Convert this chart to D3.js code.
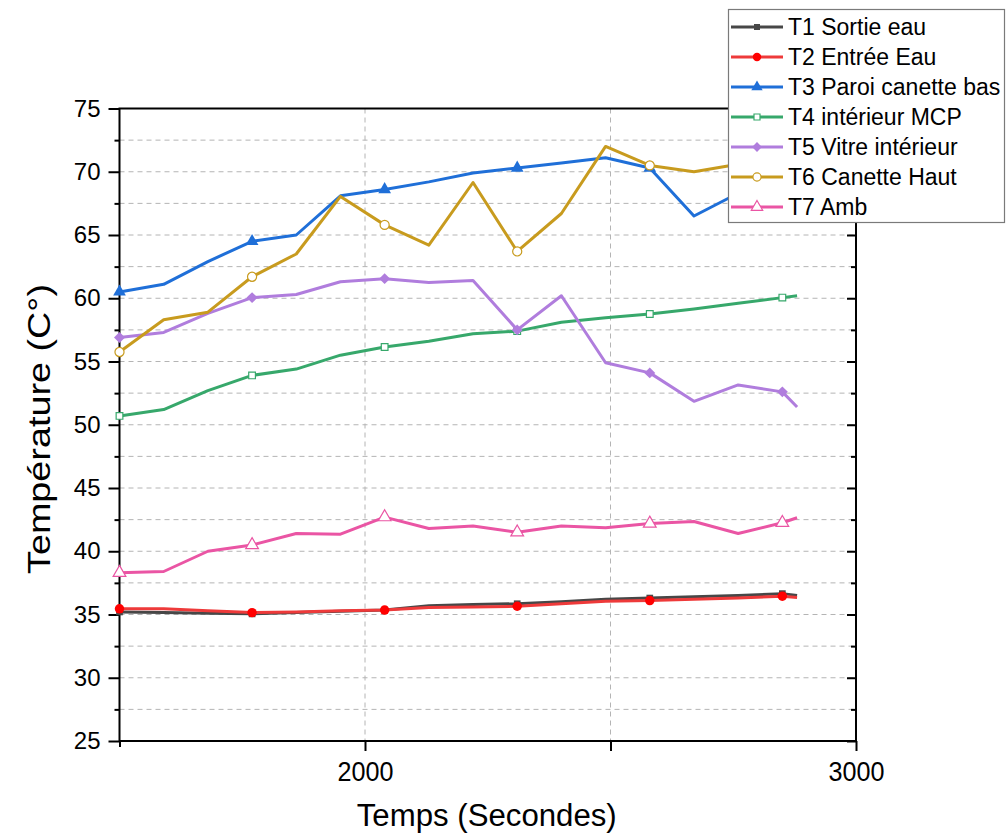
<!DOCTYPE html>
<html>
<head>
<meta charset="utf-8">
<script src="https://cdnjs.cloudflare.com/ajax/libs/d3/7.8.5/d3.min.js"></script>
<style>
  html, body { margin: 0; padding: 0; background: #fff; }
  svg { display: block; font-family: "Liberation Sans", Arial, sans-serif; }
</style>
</head>
<body>
<svg id="chart" width="1007" height="838"></svg>
<script>
// ---- data ----
const times = [1500, 1590, 1680, 1770, 1860, 1950, 2040, 2130, 2220, 2310, 2400, 2490, 2580, 2670, 2760, 2850, 2880];
const seriesNames = ["T1 Sortie eau", "T2 Entrée Eau", "T3 Paroi canette bas", "T4 intérieur MCP", "T5 Vitre intérieur", "T6 Canette Haut", "T7 Amb"];
const t1 = [35.2, 35.15, 35.1, 35.05, 35.15, 35.25, 35.35, 35.7, 35.8, 35.85, 36.0, 36.2, 36.3, 36.4, 36.5, 36.65, 36.5];
const t2 = [35.45, 35.45, 35.3, 35.15, 35.2, 35.3, 35.35, 35.55, 35.6, 35.65, 35.85, 36.05, 36.1, 36.2, 36.3, 36.45, 36.35];
const t3 = [60.5, 61.1, 62.9, 64.5, 65.0, 68.1, 68.6, 69.2, 69.9, 70.3, 70.7, 71.1, 70.3, 66.5, 68.3, 69.5, 69.8];
const t4 = [50.7, 51.2, 52.7, 53.9, 54.4, 55.5, 56.15, 56.6, 57.2, 57.4, 58.1, 58.45, 58.75, 59.15, 59.6, 60.05, 60.2];
const t5 = [56.9, 57.3, 58.8, 60.05, 60.3, 61.3, 61.55, 61.25, 61.4, 57.5, 60.2, 54.9, 54.1, 51.85, 53.15, 52.6, 51.4];
const t6 = [55.75, 58.3, 58.9, 61.7, 63.5, 68.05, 65.8, 64.2, 69.15, 63.7, 66.7, 72.0, 70.5, 70.0, 70.6, 71.0, 71.2];
const t7 = [38.3, 38.4, 40.0, 40.5, 41.4, 41.35, 42.7, 41.8, 42.0, 41.5, 42.0, 41.85, 42.2, 42.35, 41.4, 42.25, 42.65];
const yMajorTicks = [25, 30, 35, 40, 45, 50, 55, 60, 65, 70, 75];
const yMinorTicks = [27.5, 32.5, 37.5, 42.5, 47.5, 52.5, 57.5, 62.5, 67.5, 72.5];
const xLabelTicks = [2000, 3000];
const xAllTicks = [1500, 2000, 2500, 3000];
const xTitle = "Temps (Secondes)";
const yTitle = "Température (C°)";

// ---- styles ----
const colors = ["#474747", "#ee3a3a", "#1f6fd8", "#37a86b", "#b07ddd", "#c89b1e", "#ea55a4"];
const markerFill = ["#474747", "#ff0000", "#1f6fd8", "#ffffff", "#b07ddd", "#ffffff", "#ffffff"];
const markerType = ["square", "circle", "triangle", "square", "diamond", "circle", "triangle"];
const markerSize = [45, 70, 70, 45, 60, 65, 70];
const allSeries = [t1, t2, t3, t4, t5, t6, t7];

const svg = d3.select("#chart");
const X0 = 119.5, X1 = 856, Y0 = 741, Y1 = 108.5;
const x = d3.scaleLinear().domain([1500, 3000]).range([X0, X1]);
const y = d3.scaleLinear().domain([25, 75]).range([Y0, Y1]);

// grid
const grid = svg.append("g");
grid.selectAll("line.h").data(d3.range(27.5, 75, 2.5)).join("line")
  .attr("x1", X0).attr("x2", X1).attr("y1", d => y(d)).attr("y2", d => y(d))
  .attr("stroke", "#b4b4b4").attr("stroke-width", 1).attr("stroke-dasharray", "5,4");
grid.selectAll("line.v").data([2000, 2500]).join("line")
  .attr("y1", Y1).attr("y2", Y0).attr("x1", d => x(d)).attr("x2", d => x(d))
  .attr("stroke", "#b4b4b4").attr("stroke-width", 1).attr("stroke-dasharray", "5,4");

// axes
const left = svg.append("g").attr("transform", `translate(${X0},0)`)
  .call(d3.axisLeft(y).tickValues(yMajorTicks).tickSize(11).tickPadding(8).tickFormat(d3.format("d")));
left.selectAll(".tick text").attr("font-size", 24).attr("fill", "#000").attr("font-family", "Liberation Sans, Arial, sans-serif");
left.selectAll(".tick line").attr("stroke-width", 2);
left.select(".domain").remove();
const leftMinor = svg.append("g").attr("transform", `translate(${X0},0)`)
  .call(d3.axisLeft(y).tickValues(yMinorTicks).tickSize(5).tickFormat(""));
leftMinor.selectAll(".tick line").attr("stroke-width", 2);
leftMinor.select(".domain").remove();

svg.append("g").attr("transform", `translate(${X1},0)`)
  .call(d3.axisRight(y).tickValues(yMajorTicks).tickSize(-9).tickFormat(""))
  .call(g => { g.select(".domain").remove(); g.selectAll(".tick line").attr("stroke-width", 2); });
svg.append("g").attr("transform", `translate(${X1},0)`)
  .call(d3.axisRight(y).tickValues(yMinorTicks).tickSize(-5).tickFormat(""))
  .call(g => { g.select(".domain").remove(); g.selectAll(".tick line").attr("stroke-width", 2); });

const bottom = svg.append("g").attr("transform", `translate(0,${Y0})`)
  .call(d3.axisBottom(x).tickValues(xAllTicks).tickSize(10).tickPadding(10)
    .tickFormat(d => xLabelTicks.includes(d) ? d3.format("d")(d) : ""));
bottom.select(".domain").remove();
bottom.selectAll(".tick line").attr("stroke-width", 2).attr("y2", d => d === 1500 ? 6 : 10);
bottom.selectAll(".tick text").attr("font-size", 28).attr("fill", "#000")
  .attr("font-family", "Liberation Sans, Arial, sans-serif")
  .attr("textLength", 56).attr("lengthAdjust", "spacingAndGlyphs");

// frame
svg.append("rect").attr("x", X0).attr("y", Y1).attr("width", X1 - X0).attr("height", Y0 - Y1)
  .attr("fill", "none").attr("stroke", "#000").attr("stroke-width", 2);

// series
const line = d3.line().x((d, i) => x(times[i])).y(d => y(d));
const squareDiamond = {
  draw(ctx, size) {
    const r = Math.sqrt(size / 2);
    ctx.moveTo(0, -r); ctx.lineTo(r, 0); ctx.lineTo(0, r); ctx.lineTo(-r, 0); ctx.closePath();
  }
};
const symbolOf = t => t === "square" ? d3.symbolSquare : t === "circle" ? d3.symbolCircle : t === "triangle" ? d3.symbolTriangle : squareDiamond;
const plot = svg.append("g");
allSeries.forEach((s, k) => {
  plot.append("path").datum(s).attr("d", line).attr("fill", "none")
    .attr("stroke", colors[k]).attr("stroke-width", 3).attr("stroke-linejoin", "round");
  const sym = d3.symbol().type(symbolOf(markerType[k])).size(markerSize[k]);
  plot.selectAll(null).data(s.map((v, i) => ({v, i})).filter(d => d.i % 3 === 0)).join("path")
    .attr("transform", d => `translate(${x(times[d.i])},${y(d.v)})`)
    .attr("d", sym)
    .attr("fill", markerFill[k])
    .attr("stroke", markerFill[k] === "#ffffff" ? colors[k] : "none")
    .attr("stroke-width", 1.2);
});

// axis titles
svg.append("text").attr("x", (X0 + X1) / 2 - 1).attr("y", 826).attr("text-anchor", "middle")
  .attr("font-size", 31).attr("fill", "#000").attr("textLength", 260).attr("lengthAdjust", "spacingAndGlyphs")
  .text(xTitle);
svg.append("text").attr("transform", "translate(50,429) rotate(-90)").attr("text-anchor", "middle")
  .attr("font-size", 31).attr("fill", "#000").attr("textLength", 290).attr("lengthAdjust", "spacingAndGlyphs")
  .text(yTitle);

// legend
const lg = svg.append("g");
lg.append("rect").attr("x", 728.5).attr("y", 9.5).attr("width", 276).attr("height", 213)
  .attr("fill", "#fff").attr("stroke", "#7a7a7a").attr("stroke-width", 1.2);
seriesNames.forEach((name, k) => {
  const cy = 27 + k * 30;
  lg.append("line").attr("x1", 731).attr("x2", 783).attr("y1", cy).attr("y2", cy)
    .attr("stroke", colors[k]).attr("stroke-width", 3);
  const sym = d3.symbol().type(symbolOf(markerType[k])).size(markerSize[k] * 0.8);
  lg.append("path").attr("transform", `translate(757,${cy})`).attr("d", sym)
    .attr("fill", markerFill[k])
    .attr("stroke", markerFill[k] === "#ffffff" ? colors[k] : "none").attr("stroke-width", 1.2);
  lg.append("text").attr("x", 788).attr("y", cy + 8).attr("font-size", 23).attr("fill", "#000").text(name);
});
</script>
</body>
</html>
